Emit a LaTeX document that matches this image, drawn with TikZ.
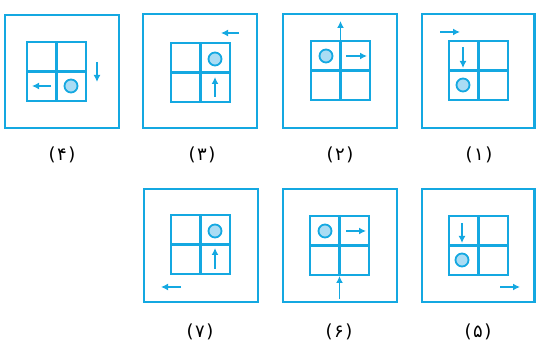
\documentclass[tikz,border=0pt]{standalone}
\usepackage{fontspec}
\newfontfamily\fafont{DejaVu Sans}
\usetikzlibrary{arrows.meta,calc}
\definecolor{cy}{RGB}{20,168,225}
\definecolor{ballfill}{RGB}{170,220,244}
\tikzset{
  outerbox/.style={draw=cy,line width=2.8pt},
  gridbox/.style={draw=cy,line width=2.5pt},
  arr/.style={draw=cy,line width=1.6pt,-{Latex[length=7pt,width=7pt]}},
  ball/.style={draw=cy,fill=ballfill,line width=1.8pt},
  lbl/.style={font=\fafont\fontsize{18}{20}\selectfont,text=black,inner sep=0pt}
}
\newcommand{\mygrid}[2]{%
  \draw[gridbox] (#1,#2) rectangle ++(59,59);
  \draw[gridbox] ($(#1,#2)+(29.5,0)$) -- ++(0,59);
  \draw[gridbox] ($(#1,#2)+(0,29.5)$) -- ++(59,0);
}
\newcommand{\lab}[1]{(\kern1.5pt#1\kern1.5pt)}
\begin{document}
\begin{tikzpicture}[x=1pt,y=-1pt]
\useasboundingbox (0,0) rectangle (536,344);
% Panel 4
\draw[outerbox] (5,15) rectangle (119,128);
\mygrid{27}{42}
\coordinate (p4a) at (97,62); \coordinate (p4b) at (97,82);
\draw[arr] (p4a) -- (p4b);
\coordinate (p4c) at (51,86); \coordinate (p4d) at (32,86);
\draw[arr] (p4c) -- (p4d);
\draw[ball] (71,86) circle (6.5);
\node[lbl] (l4) at (62,155) {\lab{۴}};
% Panel 3
\draw[outerbox] (143,14) rectangle (257,128);
\mygrid{171}{43}
\coordinate (p3a) at (239,33); \coordinate (p3b) at (221,33);
\draw[arr] (p3a) -- (p3b);
\coordinate (p3c) at (215,97); \coordinate (p3d) at (215,77);
\draw[arr] (p3c) -- (p3d);
\draw[ball] (215,59) circle (6.5);
\node[lbl] (l3) at (202,155) {\lab{۳}};
% Panel 2
\draw[outerbox] (283,14) rectangle (397,128);
\mygrid{311}{41}
\coordinate (p2a) at (340.5,41); \coordinate (p2b) at (340.5,21);
\draw[arr] (p2a) -- (p2b);
\coordinate (p2c) at (346,56); \coordinate (p2d) at (367,56);
\draw[arr] (p2c) -- (p2d);
\draw[ball] (326,56) circle (6.5);
\node[lbl] (l2) at (340,155) {\lab{۲}};
% Panel 1
\draw[outerbox] (422,14) rectangle (534.5,128);
\mygrid{449}{41}
\coordinate (p1a) at (440,32); \coordinate (p1b) at (460,32);
\draw[arr] (p1a) -- (p1b);
\coordinate (p1c) at (463,47); \coordinate (p1d) at (463,68);
\draw[arr] (p1c) -- (p1d);
\draw[ball] (463,85) circle (6.5);
\node[lbl] (l1) at (479,155) {\lab{۱}};
% Panel 7
\draw[outerbox] (144,189) rectangle (258,302);
\mygrid{171}{215}
\coordinate (p7a) at (215,269); \coordinate (p7b) at (215,248);
\draw[arr] (p7a) -- (p7b);
\coordinate (p7c) at (181,287); \coordinate (p7d) at (161,287);
\draw[arr] (p7c) -- (p7d);
\draw[ball] (215,231) circle (6.5);
\node[lbl] (l7) at (200,332) {\lab{۷}};
% Panel 6
\draw[outerbox] (283,189) rectangle (397,302);
\mygrid{310}{216}
\coordinate (p6a) at (346,231); \coordinate (p6b) at (366,231);
\draw[arr] (p6a) -- (p6b);
\coordinate (p6c) at (339.5,299); \coordinate (p6d) at (339.5,276);
\draw[arr] (p6c) -- (p6d);
\draw[ball] (325,231) circle (6.5);
\node[lbl] (l6) at (339,332) {\lab{۶}};
% Panel 5
\draw[outerbox] (422,189) rectangle (534.5,302);
\mygrid{449}{216}
\coordinate (p5a) at (462,223); \coordinate (p5b) at (462,243);
\draw[arr] (p5a) -- (p5b);
\coordinate (p5c) at (500,287); \coordinate (p5d) at (520,287);
\draw[arr] (p5c) -- (p5d);
\draw[ball] (462,260) circle (6.5);
\node[lbl] (l5) at (478,332) {\lab{۵}};
\end{tikzpicture}
\end{document}
